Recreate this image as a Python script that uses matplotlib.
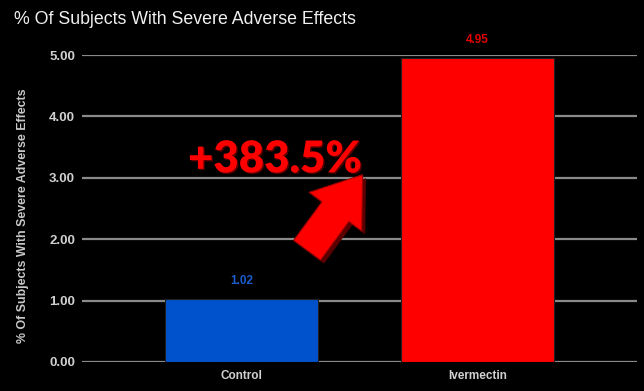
import matplotlib.pyplot as plt
import matplotlib.patheffects as pe

categories = ["Control", "Ivermectin"]
values = [1.02, 4.95]
bar_colors = ["#0052cc", "#ff0000"]
label_colors = ["#1a5ccc", "#e00000"]
yticks = [0, 1, 2, 3, 4, 5]
increase_text = "+383.5%"

plt.rcParams['font.family'] = ['Liberation Sans', 'DejaVu Sans']

fig = plt.figure(figsize=(6.44, 3.91), dpi=100, facecolor='black')
ax = fig.add_axes([82 / 644, 1 - 362 / 391, 555 / 644, (362 - 55) / 391])
ax.set_facecolor('black')

x = range(len(categories))
ax.bar(x, values, width=0.65, color=bar_colors, edgecolor='#202020', linewidth=0.8, zorder=3)

for i, v in enumerate(values):
    ax.annotate(f"{v:.2f}", (i, v), xytext=(0, 9), textcoords='offset points',
                ha='center', va='bottom', color=label_colors[i], fontsize=8.5,
                fontweight='bold', annotation_clip=False)

ax.set_xlim(-0.676, 1.676)
ax.set_ylim(0, 5)
ax.set_yticks(yticks)
ax.set_yticklabels([f"{t:.2f}" for t in yticks])
ax.set_xticks(list(x))
ax.set_xticklabels(categories)
ax.tick_params(axis='both', length=0, colors='#d0d0d0', labelsize=8.5)
ax.tick_params(axis='y', pad=5, labelsize=9.5)
ax.tick_params(axis='x', pad=6)
for lab in ax.get_xticklabels() + ax.get_yticklabels():
    lab.set_fontweight('bold')
ax.grid(axis='y', color='#8a8a8a', linewidth=1.6, zorder=0)
for s in ax.spines.values():
    s.set_visible(False)

ax.set_ylabel("% Of Subjects With Severe Adverse Effects", color='#c8c8c8',
              fontsize=8.9, fontweight='bold')
ax.yaxis.set_label_coords(-0.095, 0.475)

fig.text(14 / 644, 1 - 20 / 391, "% Of Subjects With Severe Adverse Effects",
         color='#f0f0f0', fontsize=12.8, va='center', ha='left')

# big red arrow and label
ax.annotate("", xy=(0.513, 3.05), xytext=(0.278, 1.82),
            arrowprops=dict(arrowstyle="simple,head_length=33,head_width=47,tail_width=24",
                            mutation_scale=1, facecolor='#ff0000', edgecolor='#a00000',
                            linewidth=0.8, shrinkA=0, shrinkB=0,
                            path_effects=[pe.SimplePatchShadow(offset=(2.5, -2.5),
                                                               shadow_rgbFace='#5a0000', alpha=1),
                                          pe.Normal()]),
            zorder=5)
ax.text(0.142, 3.30, increase_text, color='#ff0000', fontsize=31.5, fontweight='heavy',
        family=['Lato', 'DejaVu Sans'], ha='center', va='center', zorder=6,
        path_effects=[pe.withSimplePatchShadow(offset=(1, -1), shadow_rgbFace='#500000', alpha=1)])

fig.savefig("out.png", dpi=100, facecolor='black')
